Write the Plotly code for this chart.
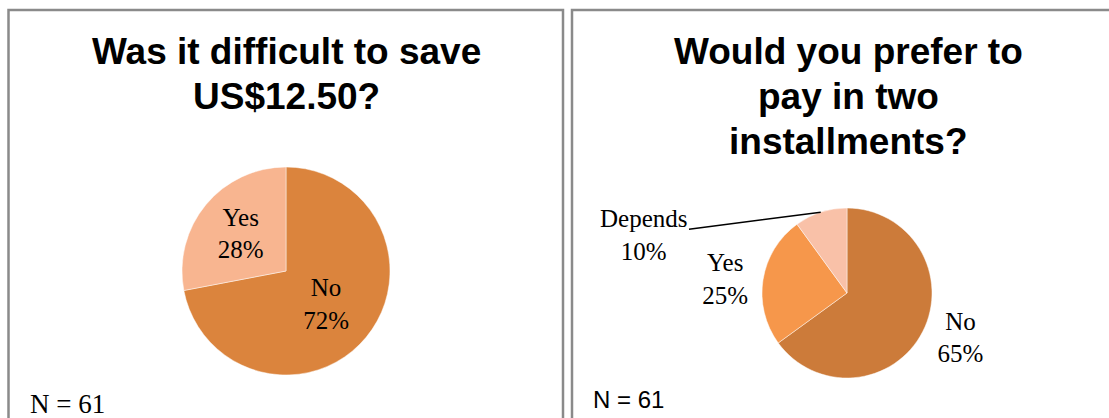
import math
import plotly.graph_objects as go

W, H = 1109, 418

# ---- data ----
left_labels = ["No", "Yes"]
left_values = [72, 28]
left_colors = ["#DB843D", "#F8B590"]
left_title = ["Was it difficult to save", "US$12.50?"]

right_labels = ["No", "Yes", "Depends"]
right_values = [65, 25, 10]
right_colors = ["#CC7B3A", "#F6974B", "#F9C1A8"]
right_title = ["Would you prefer to", "pay in two", "installments?"]

n_text = "N = 61"

SERIF = "Liberation Serif"
SANS = "Liberation Sans"


def px_x(x):
    return x / W


def px_y(y):
    return 1 - y / H


# pie geometry (pixels)
L_CX, L_CY, L_R = 286, 271, 104
R_CX, R_CY, R_R = 847, 293, 85

fig = go.Figure()

fig.add_trace(go.Pie(
    labels=left_labels, values=left_values, sort=False, direction="clockwise",
    rotation=0,
    marker=dict(colors=left_colors, line=dict(color="rgba(255,255,255,0.6)", width=0.8)),
    texttemplate="%{label}<br>%{percent:.0%}",
    textposition="inside", insidetextorientation="horizontal",
    textfont=dict(family=SERIF, size=25, color="black"),
    domain=dict(x=[px_x(L_CX - L_R), px_x(L_CX + L_R)],
                y=[px_y(L_CY + L_R), px_y(L_CY - L_R)]),
    showlegend=False, hoverinfo="label+percent",
))

fig.add_trace(go.Pie(
    labels=right_labels, values=right_values, sort=False, direction="clockwise",
    rotation=0,
    marker=dict(colors=right_colors, line=dict(color="rgba(255,255,255,0.6)", width=0.8)),
    texttemplate="%{label}<br>%{percent:.0%}",
    textposition=["outside", "outside", "none"],
    textfont=dict(family=SERIF, size=25, color="black"),
    domain=dict(x=[px_x(R_CX - R_R), px_x(R_CX + R_R)],
                y=[px_y(R_CY + R_R), px_y(R_CY - R_R)]),
    showlegend=False, hoverinfo="label+percent",
))

annotations = []

# titles, one annotation per line
title_font = dict(family=SANS, size=37, color="black")
for i, line in enumerate(left_title):
    center = 52 + i * 44.5
    annotations.append(dict(text="<b>%s</b>" % line, x=px_x(286), y=px_y(center),
                            xref="paper", yref="paper", xanchor="center", yanchor="middle",
                            showarrow=False, font=title_font))
for i, line in enumerate(right_title):
    center = 52 + i * 44.5
    annotations.append(dict(text="<b>%s</b>" % line, x=px_x(848), y=px_y(center),
                            xref="paper", yref="paper", xanchor="center", yanchor="middle",
                            showarrow=False, font=title_font))

# Depends label with leader line, anchored at the slice mid-angle
tot = sum(right_values)
before = sum(right_values[:2])
mid = (before + right_values[2] / 2) / tot * 2 * math.pi
ex = R_CX + R_R * math.sin(mid)
ey = R_CY - R_R * math.cos(mid)
annotations.append(dict(
    text="%s<br>%d%%" % (right_labels[2], round(right_values[2] / tot * 100)),
    x=px_x(ex), y=px_y(ey), xref="paper", yref="paper",
    showarrow=True, arrowhead=0, arrowwidth=1.5, arrowcolor="black",
    ax=644 - ex, ay=235 - ey, axref="pixel", ayref="pixel",
    font=dict(family=SERIF, size=25, color="black"),
))

# N = 61 notes
annotations.append(dict(text=n_text, x=px_x(28), y=px_y(404), xref="paper", yref="paper",
                        xanchor="left", yanchor="middle", showarrow=False,
                        font=dict(family=SERIF, size=27, color="black")))
annotations.append(dict(text=n_text, x=px_x(591), y=px_y(399), xref="paper", yref="paper",
                        xanchor="left", yanchor="middle", showarrow=False,
                        font=dict(family=SANS, size=24, color="black")))

shapes = [
    dict(type="rect", xref="paper", yref="paper", x0=px_x(8.5), x1=px_x(563), y0=-0.2, y1=px_y(10),
         line=dict(color="#8A8A8A", width=2.5), fillcolor="rgba(0,0,0,0)"),
    dict(type="rect", xref="paper", yref="paper", x0=px_x(572), x1=px_x(1135), y0=-0.2, y1=px_y(10),
         line=dict(color="#8A8A8A", width=2.5), fillcolor="rgba(0,0,0,0)"),
]

fig.update_layout(
    width=W, height=H, margin=dict(l=0, r=0, t=0, b=0),
    paper_bgcolor="white", plot_bgcolor="white",
    annotations=annotations, shapes=shapes, showlegend=False,
)

fig.write_html("out.html", config={"displayModeBar": False})
